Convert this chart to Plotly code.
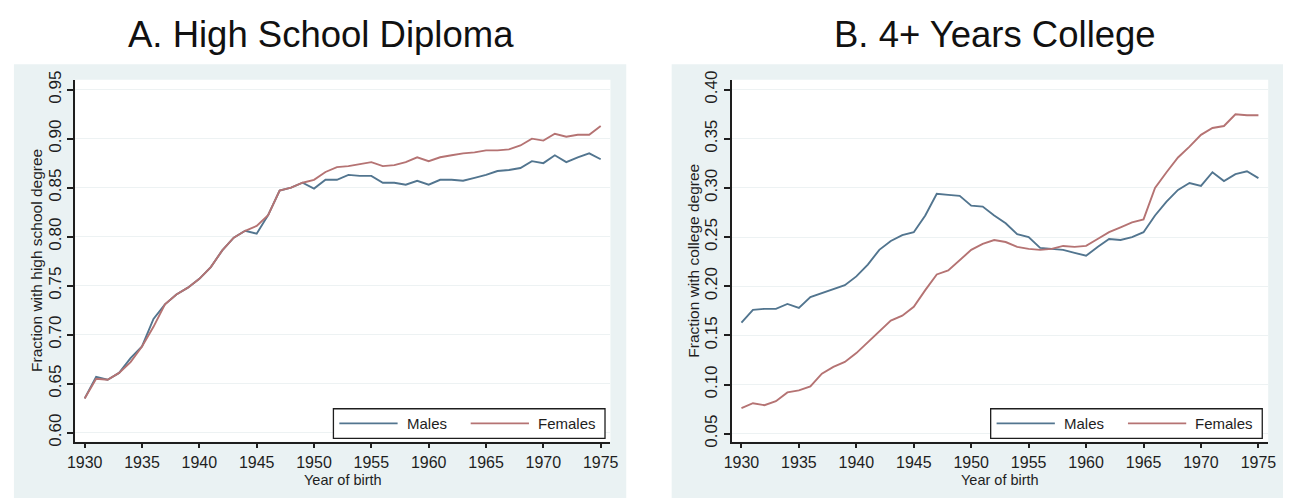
import plotly.graph_objects as go

# Birth cohorts
years = list(range(1930, 1976))

# Panel A: fraction with a high school degree
hs_males = [
    0.635, 0.657, 0.654, 0.661, 0.676, 0.688, 0.716, 0.731, 0.741, 0.748,
    0.757, 0.769, 0.786, 0.799, 0.806, 0.803, 0.822, 0.847, 0.850, 0.855,
    0.849, 0.858, 0.858, 0.863, 0.862, 0.862, 0.855, 0.855, 0.853, 0.857,
    0.853, 0.858, 0.858, 0.857, 0.860, 0.863, 0.867, 0.868, 0.870, 0.877,
    0.875, 0.883, 0.876, 0.881, 0.885, 0.879,
]
hs_females = [
    0.635, 0.655, 0.654, 0.661, 0.672, 0.688, 0.708, 0.731, 0.741, 0.748,
    0.757, 0.769, 0.786, 0.799, 0.806, 0.811, 0.822, 0.847, 0.850, 0.855,
    0.858, 0.866, 0.871, 0.872, 0.874, 0.876, 0.872, 0.873, 0.876, 0.881,
    0.877, 0.881, 0.883, 0.885, 0.886, 0.888, 0.888, 0.889, 0.893, 0.900,
    0.898, 0.905, 0.902, 0.904, 0.904, 0.913,
]

# Panel B: fraction with four or more years of college
col_males = [
    0.163, 0.176, 0.177, 0.177, 0.182, 0.178, 0.189, 0.193, 0.197, 0.201,
    0.210, 0.222, 0.237, 0.246, 0.252, 0.255, 0.272, 0.294, 0.293, 0.292,
    0.282, 0.281, 0.272, 0.264, 0.253, 0.250, 0.239, 0.238, 0.237, 0.234,
    0.231, 0.240, 0.248, 0.247, 0.250, 0.255, 0.272, 0.286, 0.298, 0.305,
    0.302, 0.316, 0.307, 0.314, 0.317, 0.310,
]
col_females = [
    0.076, 0.081, 0.079, 0.083, 0.092, 0.094, 0.098, 0.111, 0.118, 0.123,
    0.132, 0.143, 0.154, 0.165, 0.170, 0.179, 0.196, 0.212, 0.216, 0.227,
    0.237, 0.243, 0.247, 0.245, 0.240, 0.238, 0.237, 0.238, 0.241, 0.240,
    0.241, 0.248, 0.255, 0.260, 0.265, 0.268, 0.300, 0.316, 0.331, 0.342,
    0.354, 0.361, 0.363, 0.375, 0.374, 0.374,
]

series_names = ["Males", "Females"]
panel_titles = ["A. High School Diploma", "B. 4+ Years College"]
y_titles = ["Fraction with high school degree", "Fraction with college degree"]
x_title = "Year of birth"
x_ticks = [1930, 1935, 1940, 1945, 1950, 1955, 1960, 1965, 1970, 1975]
hs_ticks = [0.60, 0.65, 0.70, 0.75, 0.80, 0.85, 0.90, 0.95]
col_ticks = [0.05, 0.10, 0.15, 0.20, 0.25, 0.30, 0.35, 0.40]

W, H = 1291, 504
SERIES_COLORS = ["#52758f", "#b57373"]
PANEL_BG = "#eaf2f3"
GRID_C = "#edf2f3"
INK = "#1e1e1e"
FONT = "Liberation Sans"


def px_x(p):
    return p / W


def px_y(p):
    return 1 - p / H


fig = go.Figure()

panels = [
    dict(series=[hs_males, hs_females], ticks=hs_ticks,
         xd=(68, 610), yr=(0.5908, 0.960), bg=(6, 626), leg_left=329.5,
         title_x=317),
    dict(series=[col_males, col_females], ticks=col_ticks,
         xd=(733, 1276), yr=(0.0418, 0.410), bg=(672, 1291), leg_left=995,
         title_x=999),
]

for i, p in enumerate(panels):
    sfx = "" if i == 0 else str(i + 1)
    for name, vals, col in zip(series_names, p["series"], SERIES_COLORS):
        fig.add_trace(go.Scatter(
            x=years, y=vals, mode="lines", name=name, showlegend=False,
            line=dict(color=col, width=1.9),
            xaxis="x" + sfx, yaxis="y" + sfx,
        ))

    # light outer panel behind each graph
    fig.add_shape(type="rect", xref="paper", yref="paper",
                  x0=px_x(p["bg"][0]), x1=px_x(p["bg"][1]),
                  y0=px_y(504), y1=px_y(57),
                  fillcolor=PANEL_BG, line_width=0, layer="below")
    # white plot region
    fig.add_shape(type="rect", xref="paper", yref="paper",
                  x0=px_x(p["xd"][0]), x1=px_x(p["xd"][1]),
                  y0=px_y(446), y1=px_y(73),
                  fillcolor="white", line_width=0, layer="below")

    fig.update_layout({
        "xaxis" + sfx: dict(
            domain=[px_x(p["xd"][0]), px_x(p["xd"][1])],
            range=[1929.17, 1975.85], anchor="y" + sfx,
            tickvals=x_ticks, ticks="outside", ticklen=5, tickwidth=1.5,
            tickcolor=INK, showline=True, linecolor=INK, linewidth=1.5,
            showgrid=False, zeroline=False, ticklabelstandoff=0,
            tickfont=dict(family=FONT, size=16, color=INK),
        ),
        "yaxis" + sfx: dict(
            domain=[px_y(446), px_y(73)],
            range=list(p["yr"]), anchor="x" + sfx,
            tickvals=p["ticks"], tickformat=".2f", tickangle=-90,
            ticks="outside", ticklen=6, tickwidth=1.5, tickcolor=INK,
            showline=True, linecolor=INK, linewidth=1.5,
            showgrid=True, gridcolor=GRID_C, gridwidth=1, zeroline=False,
            tickfont=dict(family=FONT, size=17, color=INK),
        ),
    })

    # legend box with a line key and label for each series
    lx = p["leg_left"]
    fig.add_shape(type="rect", xref="paper", yref="paper",
                  x0=px_x(lx), x1=px_x(lx + 275), y0=px_y(442.5), y1=px_y(412),
                  fillcolor="white", line=dict(color=INK, width=1.3))
    for k, (name, col) in enumerate(zip(series_names, SERIES_COLORS)):
        off = lx + 133 * k
        fig.add_shape(type="line", xref="paper", yref="paper",
                      x0=px_x(off + 6), x1=px_x(off + 65),
                      y0=px_y(427), y1=px_y(427),
                      line=dict(color=col, width=1.8))
        fig.add_annotation(text=name, xref="paper", yref="paper",
                           x=px_x(off + 72), y=px_y(427.5), showarrow=False,
                           xanchor="left", yanchor="middle",
                           font=dict(family=FONT, size=15, color=INK))

    fig.add_annotation(text=panel_titles[i], xref="paper", yref="paper",
                       x=px_x(p["title_x"]), y=px_y(26), showarrow=False,
                       xanchor="center", yanchor="middle",
                       font=dict(family=FONT, size=36.5, color="#111"))
    fig.add_annotation(text=x_title, xref="paper", yref="paper",
                       x=px_x((p["xd"][0] + p["xd"][1]) / 2), y=px_y(485),
                       showarrow=False, xanchor="center", yanchor="middle",
                       font=dict(family=FONT, size=14.5, color=INK))
    fig.add_annotation(text=y_titles[i], xref="paper", yref="paper",
                       x=px_x(p["xd"][0] - 38.5), y=px_y(259.5), textangle=-90,
                       showarrow=False, xanchor="center", yanchor="middle",
                       font=dict(family=FONT, size=15.5, color=INK))

fig.update_layout(
    width=W, height=H, margin=dict(l=0, r=0, t=0, b=0),
    paper_bgcolor="white", plot_bgcolor="white", showlegend=False,
)

fig.write_html("out.html")
